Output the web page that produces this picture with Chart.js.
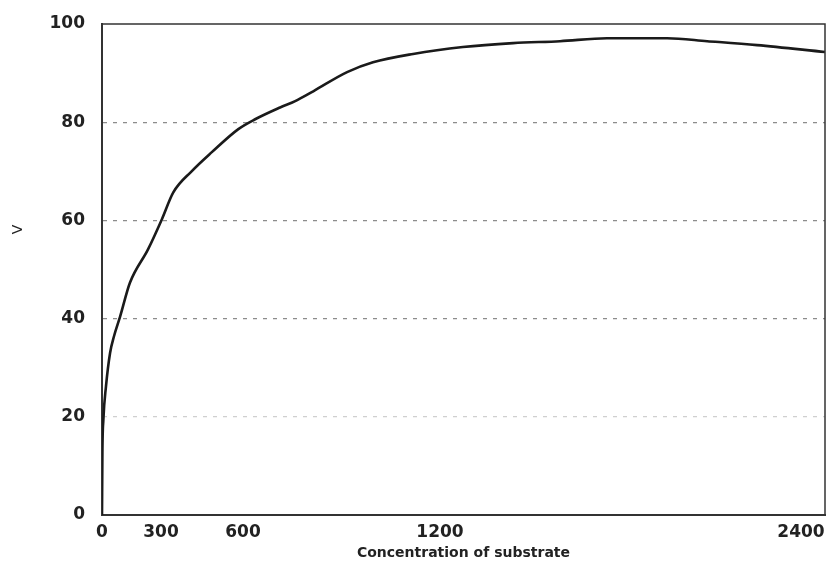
<!DOCTYPE html>
<html>
<head>
<meta charset="utf-8">
<script src="https://cdn.jsdelivr.net/npm/chart.js@4.4.1/dist/chart.umd.min.js"></script>
<style>
  body { margin: 0; background: #fff; }
</style>
</head>
<body>
<canvas id="myChart" width="830" height="564"></canvas>
<script>
// substrate concentration and velocity
const gConcentration = [0, 2, 7, 20, 41, 61, 92, 142, 234, 303, 345, 412, 486, 583, 637, 713, 759, 814, 917, 996, 1118, 1276, 1443, 1599, 1755, 1955, 2088, 2254, 2480]
const gVelocity = [0, 12.6, 19.4, 26.1, 33, 36.4, 40.4, 47.3, 54.1, 60.2, 65.7, 70, 73.9, 78.6, 80.6, 83, 84.3, 86.3, 90.2, 92.2, 93.9, 95.3, 96.1, 96.5, 97.1, 97.1, 96.5, 95.7, 94.3]

const gXTicks = [0, 300, 600, 1200, 2400]
const gYTicks = [0, 20, 40, 60, 80, 100]

// the printed x labels are not evenly spaced, so the axis is piecewise linear
const gKnotValues = [0, 300, 600, 1200, 2400, 2480]
const gKnotDecimals = [0, 0.0816, 0.195, 0.4675, 0.9668, 1]

function warp(v) {
  for (let i = 1; i < gKnotValues.length; i++) {
    if (v <= gKnotValues[i] || i === gKnotValues.length - 1) {
      const t = (v - gKnotValues[i - 1]) / (gKnotValues[i] - gKnotValues[i - 1])
      return gKnotDecimals[i - 1] + t * (gKnotDecimals[i] - gKnotDecimals[i - 1])
    }
  }
  return 0
}

function unwarp(d) {
  for (let i = 1; i < gKnotDecimals.length; i++) {
    if (d <= gKnotDecimals[i] || i === gKnotDecimals.length - 1) {
      const t = (d - gKnotDecimals[i - 1]) / (gKnotDecimals[i] - gKnotDecimals[i - 1])
      return gKnotValues[i - 1] + t * (gKnotValues[i] - gKnotValues[i - 1])
    }
  }
  return 0
}

class WarpScale extends Chart.LinearScale {
  getPixelForValue(value) {
    return this.getPixelForDecimal(warp(value))
  }
  getValueForPixel(pixel) {
    return unwarp(this.getDecimalForPixel(pixel))
  }
}
WarpScale.id = 'warp'
WarpScale.defaults = Chart.LinearScale.defaults
Chart.register(WarpScale)

// top and right edges of the plot frame
const frameBox = {
  id: 'frameBox',
  afterDatasetsDraw(chart) {
    const { ctx, chartArea: a } = chart
    ctx.save()
    ctx.strokeStyle = '#333'
    ctx.lineWidth = 1.5
    ctx.beginPath()
    ctx.moveTo(a.left, a.top)
    ctx.lineTo(a.right, a.top)
    ctx.lineTo(a.right, a.bottom)
    ctx.stroke()
    ctx.restore()
  }
}

Chart.defaults.font.family = "'DejaVu Sans', sans-serif"
Chart.defaults.color = '#222'

const ctx = document.getElementById('myChart').getContext('2d')
new Chart(ctx, {
  type: 'line',
  data: {
    datasets: [{
      label: 'V',
      data: gConcentration.map((x, i) => ({ x: x, y: gVelocity[i] })),
      borderColor: '#1a1a1a',
      borderWidth: 2.6,
      pointRadius: 0,
      fill: false,
      cubicInterpolationMode: 'monotone'
    }]
  },
  options: {
    responsive: false,
    animation: false,
    layout: { padding: { top: 24, right: 5, bottom: 0, left: 0 } },
    plugins: {
      legend: { display: false },
      tooltip: { enabled: false }
    },
    scales: {
      x: {
        type: 'warp',
        min: 0,
        max: 2480,
        afterBuildTicks: (scale) => {
          scale.ticks = gXTicks.map(v => ({ value: v }))
        },
        afterFit: (scale) => {
          scale.height = 49
          scale.paddingLeft = 0
          scale.paddingRight = 0
        },
        grid: { display: false, drawTicks: false },
        border: { display: true, color: '#333', width: 2 },
        ticks: {
          padding: 7,
          maxRotation: 0,
          autoSkip: false,
          font: { size: 17, weight: 'bold' },
          callback: (v) => String(v)
        },
        title: {
          display: true,
          text: 'Concentration of substrate',
          font: { size: 14, weight: 'bold' },
          padding: { top: 0, bottom: 2 }
        }
      },
      y: {
        min: 0,
        max: 100,
        afterBuildTicks: (scale) => {
          scale.ticks = gYTicks.map(v => ({ value: v }))
        },
        afterFit: (scale) => {
          scale.width = 102
          scale.paddingTop = 0
          scale.paddingBottom = 0
        },
        grid: {
          drawTicks: false,
          color: (c) => (c.tick && (c.tick.value === 0 || c.tick.value === 100)) ? 'rgba(0,0,0,0)' : (c.tick && c.tick.value === 20 ? '#cfcfcf' : '#8c8c8c'),
          lineWidth: 1.2
        },
        border: { display: true, color: '#333', width: 2, dash: [4, 6] },
        ticks: {
          padding: 17,
          font: { size: 17, weight: 'bold' }
        },
        title: {
          display: true,
          // leading spaces lift the rotated "V" above the middle, as in the scan
          text: '                  V',
          font: { size: 14 },
          padding: { top: 10, bottom: 6 }
        }
      }
    }
  },
  plugins: [frameBox]
})
</script>
</body>
</html>
